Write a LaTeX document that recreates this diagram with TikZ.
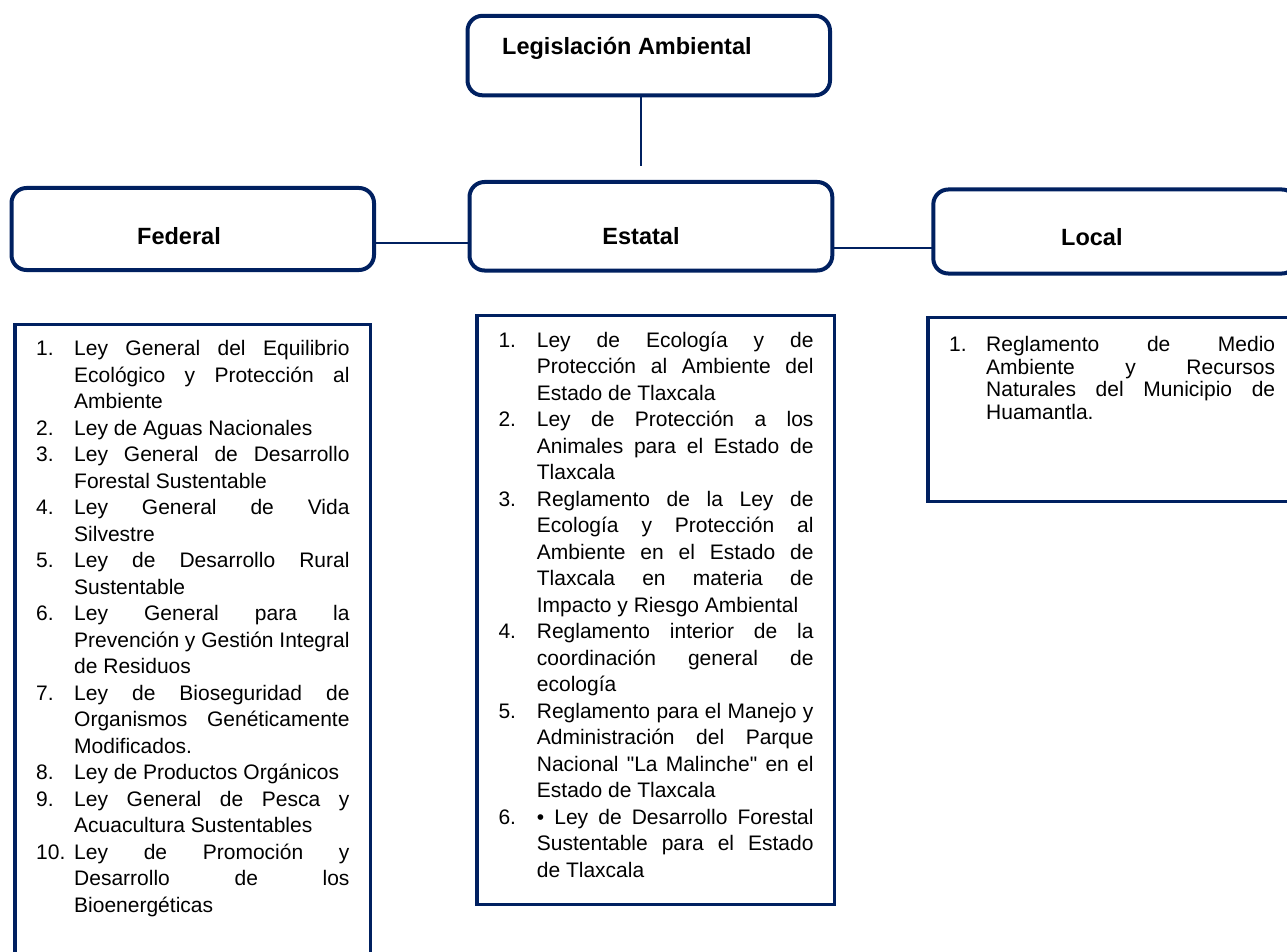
\documentclass[tikz,border=0pt]{standalone}
\usepackage{fontspec}
\setmainfont{Liberation Sans}[Ligatures=TeXOff]
\definecolor{navy}{RGB}{0,32,96}
\newlength\numw
\newlength\txtw
\newcommand\JL[2]{\noindent\makebox[\numw][l]{#1}\makebox[\txtw][s]{#2}\par}
\newcommand\LL[2]{\noindent\makebox[\numw][l]{#1}#2\par}
\newcommand\listfont[1]{\fontsize{21}{#1}\selectfont\parindent=0pt\parskip=0pt}
\begin{document}
\begin{tikzpicture}[x=1pt,y=-1pt,
  hdr/.style={draw=navy,line width=4pt,rounded corners=15pt,inner sep=0pt,outer sep=0pt,anchor=north west},
  lbox/.style={draw=navy,line width=3.5pt,inner sep=0pt,outer sep=0pt,anchor=north west},
  con/.style={draw=navy,line width=2pt},
  htxt/.style={font=\fontsize{23.5}{28}\selectfont\bfseries,inner sep=0pt,anchor=base},
  ltxt/.style={inner sep=0pt,anchor=base west}]
\useasboundingbox (0,0) rectangle (1287,952);
% header boxes
\node[hdr,minimum width=362.5pt,minimum height=79.5pt] (top) at (467.5,15.8) {};
\node[htxt,anchor=base west] (toptxt) at (502,55) {Legislación Ambiental};
\node[hdr,minimum width=362.5pt,minimum height=82pt] (fed) at (11.5,188) {};
\node[htxt,anchor=base west] (fedtxt) at (137,244) {Federal};
\node[hdr,minimum width=362.8pt,minimum height=88.5pt] (est) at (469.5,182) {};
\node[htxt] (esttxt) at (641,244) {Estatal};
\node[hdr,minimum width=363.7pt,minimum height=84pt] (loc) at (933.3,189.5) {};
\node[htxt,anchor=base west] (loctxt) at (1061,245) {Local};
% connectors
\coordinate (v) at (641,166);
\draw[con] (top.south -| v) -- (v);
\coordinate (j1) at (0,242.7);
\draw[con] (fed.east |- j1) -- (est.west |- j1);
\coordinate (j2) at (0,247.7);
\draw[con] (est.east |- j2) -- (loc.west |- j2);
% list boxes
\node[lbox,minimum width=355.7pt,minimum height=650pt] (fedl) at (15,324.5) {};
\node[lbox,minimum width=357.5pt,minimum height=589pt] (estl) at (477,315.7) {};
\node[lbox,minimum width=372pt,minimum height=184pt] (locl) at (928,317.5) {};
% list texts
\node[ltxt] (fedlist) at (36,355.7) {\parbox[t]{313.3pt}{\listfont{26.5}\setlength\numw{38pt}\setlength\txtw{275.3pt}%
\JL{1.}{Ley General del Equilibrio}
\JL{}{Ecológico y Protección al}
\LL{}{Ambiente}
\LL{2.}{Ley de Aguas Nacionales}
\JL{3.}{Ley General de Desarrollo}
\LL{}{Forestal Sustentable}
\JL{4.}{Ley General de Vida}
\LL{}{Silvestre}
\JL{5.}{Ley de Desarrollo Rural}
\LL{}{Sustentable}
\JL{6.}{Ley General para la}
\JL{}{Prevención y Gestión Integral}
\LL{}{de Residuos}
\JL{7.}{Ley de Bioseguridad de}
\JL{}{Organismos Genéticamente}
\LL{}{Modificados.}
\LL{8.}{Ley de Productos Orgánicos}
\JL{9.}{Ley General de Pesca y}
\LL{}{Acuacultura Sustentables}
\JL{10.}{Ley de Promoción y}
\JL{}{Desarrollo de los}
\LL{}{Bioenergéticas}}};
\node[ltxt] (estlist) at (498.3,347) {\parbox[t]{315pt}{\listfont{26.5}\setlength\numw{38.4pt}\setlength\txtw{276.6pt}%
\JL{1.}{Ley de Ecología y de}
\JL{}{Protección al Ambiente del}
\LL{}{Estado de Tlaxcala}
\JL{2.}{Ley de Protección a los}
\JL{}{Animales para el Estado de}
\LL{}{Tlaxcala}
\JL{3.}{Reglamento de la Ley de}
\JL{}{Ecología y Protección al}
\JL{}{Ambiente en el Estado de}
\JL{}{Tlaxcala en materia de}
\LL{}{Impacto y Riesgo Ambiental}
\JL{4.}{Reglamento interior de la}
\JL{}{coordinación general de}
\LL{}{ecología}
\JL{5.}{Reglamento para el Manejo y}
\JL{}{Administración del Parque}
\JL{}{Nacional "La Malinche" en el}
\LL{}{Estado de Tlaxcala}
\JL{6.}{• Ley de Desarrollo Forestal}
\JL{}{Sustentable para el Estado}
\LL{}{de Tlaxcala}}};
\node[ltxt] (loclist) at (949,351.7) {\parbox[t]{326pt}{\listfont{22.6}\setlength\numw{37pt}\setlength\txtw{289pt}%
\JL{1.}{Reglamento de Medio}
\JL{}{Ambiente y Recursos}
\JL{}{Naturales del Municipio de}
\LL{}{Huamantla.}}};
\end{tikzpicture}
\end{document}
